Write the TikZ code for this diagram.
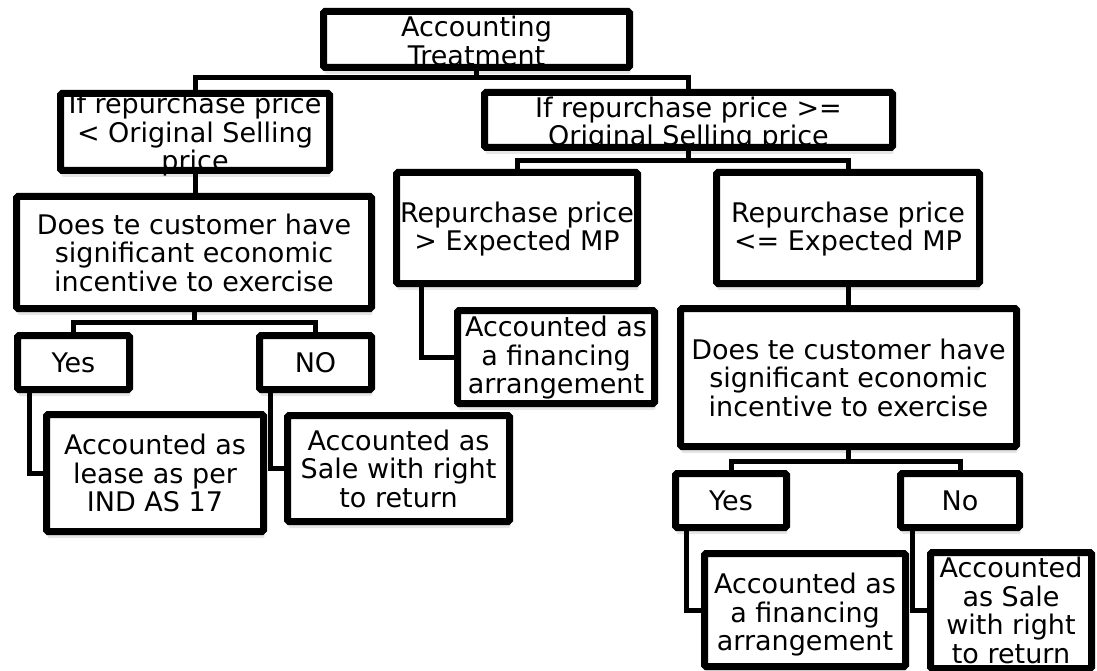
\documentclass[tikz,border=0pt]{standalone}
\usepackage{fontspec}
\setmainfont{DejaVu Sans}
\usetikzlibrary{shadows}
\tikzset{
  box/.style={draw,line width=7pt,rounded corners=1.5pt,fill=white,inner sep=0pt,
    drop shadow={opacity=.2,shadow xshift=1pt,shadow yshift=-6.5pt}},
  txt/.style={align=center,inner sep=0pt,font=\fontsize{27}{28.5}\selectfont},
  conn/.style={line width=5pt},
}

\begin{document}
\begin{tikzpicture}[x=1pt,y=1pt]
 \useasboundingbox (0,0) rectangle (1097,-671);
 \clip (0,0) rectangle (1097,-671);
 % boxes
 \node[box,minimum width=306pt,minimum height=56pt] (root) at (476.5,-39.5) {};
 \node[box,minimum width=269pt,minimum height=77pt] (l1) at (195,-132) {};
 \node[box,minimum width=408pt,minimum height=55pt] (r1) at (688.5,-120) {};
 \node[box,minimum width=355pt,minimum height=112pt] (l2) at (194,-252.5) {};
 \node[box,minimum width=241pt,minimum height=111pt] (r2a) at (517,-228) {};
 \node[box,minimum width=263pt,minimum height=111pt] (r2b) at (848,-228) {};
 \node[box,minimum width=197pt,minimum height=93pt] (fin1) at (556,-357) {};
 \node[box,minimum width=336pt,minimum height=138pt] (r3) at (848.5,-377.5) {};
 \node[box,minimum width=112pt,minimum height=54pt] (yesl) at (73.5,-362.5) {};
 \node[box,minimum width=112pt,minimum height=54pt] (nol) at (315.5,-362.5) {};
 \node[box,minimum width=217pt,minimum height=117pt] (lease) at (155,-473) {};
 \node[box,minimum width=222pt,minimum height=106pt] (salel) at (398.5,-468.5) {};
 \node[box,minimum width=111pt,minimum height=54pt] (yesr) at (731,-500.5) {};
 \node[box,minimum width=119pt,minimum height=54pt] (nor) at (960,-500.5) {};
 \node[box,minimum width=201pt,minimum height=113pt] (fin2) at (805,-610) {};
 \node[box,minimum width=161pt,minimum height=116pt] (saler) at (1011,-610.5) {};
 % connectors
 \draw[conn] (root.south) -- ++(0,-7pt) -| (l1.north);
 \draw[conn] (root.south) -- ++(0,-7pt) -| (r1.north);
 \draw[conn] (l1.south) -- (l1.south |- l2.north);
 \draw[conn] (r1.south) -- ++(0,-10pt) -| (r2a.north);
 \draw[conn] (r1.south) -- ++(0,-10pt) -| (r2b.north);
 \draw[conn] ([xshift=28pt]r2a.south west) |- (fin1.west);
 \draw[conn] (r2b.south) -- (r2b.south |- r3.north);
 \draw[conn] (l2.south) -- ++(0,-10pt) -| (yesl.north);
 \draw[conn] (l2.south) -- ++(0,-10pt) -| (nol.north);
 \draw[conn] ([xshift=15pt]yesl.south west) |- (lease.west);
 \draw[conn] ([xshift=14pt]nol.south west) |- (salel.west);
 \draw[conn] (r3.south) -- ++(0,-11pt) -| (yesr.north);
 \draw[conn] (r3.south) -- ++(0,-11pt) -| (nor.north);
 \draw[conn] ([xshift=14pt]yesr.south west) |- (fin2.west);
 \draw[conn] ([xshift=15pt]nor.south west) |- (saler.west);
 % texts
 \node[txt] (root-t) at ([yshift=-1.5pt]root) {Accounting\\Treatment};
 \node[txt] (l1-t) at ([yshift=-3pt]l1) {If repurchase price\\< Original Selling\\price};
 \node[txt] (r1-t) at ([yshift=-4pt]r1) {If repurchase price >=\\Original Selling price};
 \node[txt] (l2-t) at (l2) {Does te customer have\\significant economic\\incentive to exercise};
 \node[txt] (r2a-t) at ([yshift=-1pt]r2a) {Repurchase price\\> Expected MP};
 \node[txt] (r2b-t) at ([yshift=-1pt]r2b) {Repurchase price\\<= Expected MP};
 \node[txt] (fin1-t) at ([yshift=-1pt]fin1) {Accounted as\\a financing\\arrangement};
 \node[txt] (r3-t) at (r3) {Does te customer have\\significant economic\\incentive to exercise};
 \node[txt] (yesl-t) at (yesl) {Yes};
 \node[txt] (nol-t) at (nol) {NO};
 \node[txt] (lease-t) at (lease) {Accounted as\\lease as per\\IND AS 17};
 \node[txt] (salel-t) at (salel) {Accounted as\\Sale with right\\to return};
 \node[txt] (yesr-t) at (yesr) {Yes};
 \node[txt] (nor-t) at (nor) {No};
 \node[txt] (fin2-t) at ([yshift=-5pt]fin2) {Accounted as\\a financing\\arrangement};
 \node[txt] (saler-t) at (saler) {Accounted\\as Sale\\with right\\to return};
\end{tikzpicture}
\end{document}
